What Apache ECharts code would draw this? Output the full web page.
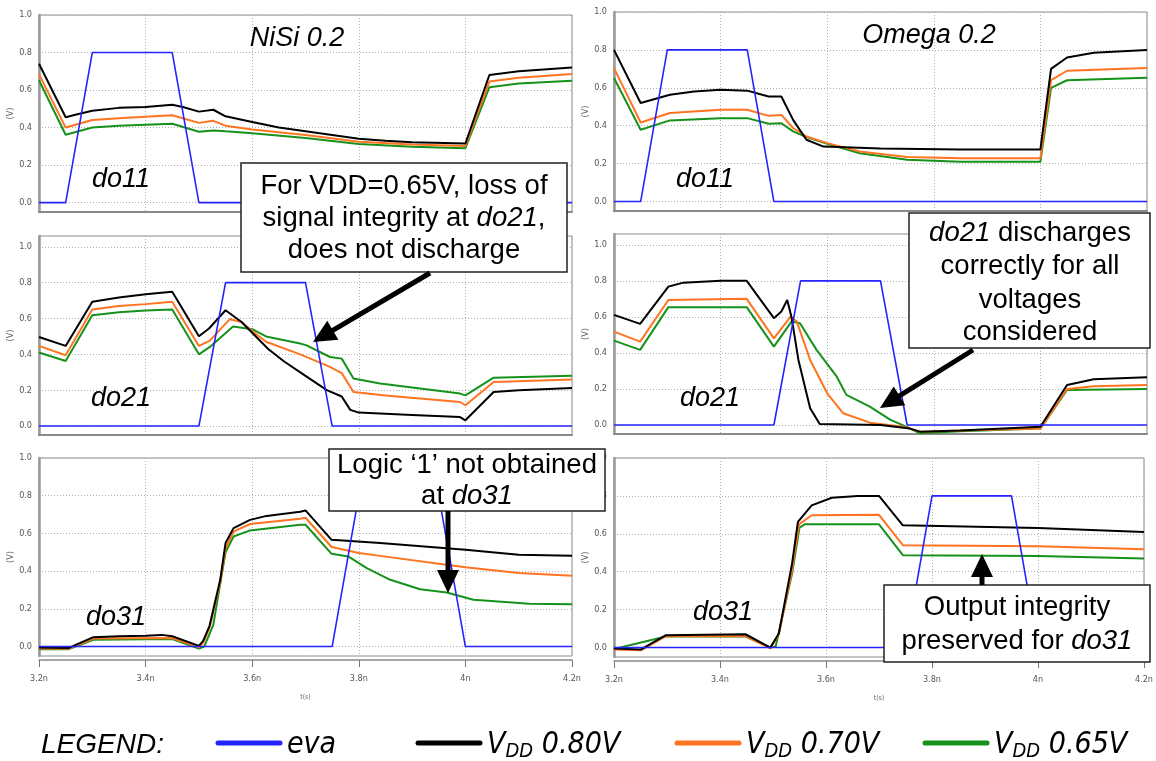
<!DOCTYPE html>
<html>
<head>
<meta charset="utf-8">
<script src="https://cdn.jsdelivr.net/npm/echarts@6/dist/echarts.min.js"></script>
<style>
  html, body { margin: 0; padding: 0; background: #fff; }
  #chart { width: 1156px; height: 761px; }
</style>
</head>
<body>
<div id="chart"></div>
<script>
// ---- Waveform data: [time (ns), voltage (V)] ----
// Evaluation clock, one pulse per stage
const evaStage1 = [[3.2, 0], [3.25, 0], [3.30, 0.8], [3.45, 0.8], [3.50, 0], [4.2, 0]];
const evaStage2 = [[3.2, 0], [3.50, 0], [3.55, 0.8], [3.70, 0.8], [3.75, 0], [4.2, 0]];
const evaStage3 = [[3.2, 0], [3.75, 0], [3.80, 0.8], [3.95, 0.8], [4.00, 0], [4.2, 0]];

// NiSi 0.2 — do11
const nisiDo11V080 = [[3.2, 0.74], [3.25, 0.455], [3.27, 0.47], [3.30, 0.49], [3.35, 0.505], [3.40, 0.51], [3.45, 0.522], [3.47, 0.51], [3.50, 0.485], [3.527, 0.495], [3.55, 0.46], [3.60, 0.43], [3.65, 0.40], [3.70, 0.38], [3.75, 0.36], [3.80, 0.34], [3.85, 0.33], [3.90, 0.322], [4.00, 0.315], [4.045, 0.68], [4.10, 0.70], [4.20, 0.72]];
const nisiDo11V070 = [[3.2, 0.685], [3.25, 0.40], [3.30, 0.44], [3.35, 0.45], [3.40, 0.458], [3.45, 0.466], [3.50, 0.425], [3.527, 0.436], [3.55, 0.41], [3.60, 0.39], [3.70, 0.36], [3.80, 0.325], [3.90, 0.31], [4.00, 0.302], [4.045, 0.645], [4.10, 0.665], [4.20, 0.685]];
const nisiDo11V065 = [[3.2, 0.652], [3.25, 0.362], [3.30, 0.40], [3.35, 0.41], [3.40, 0.415], [3.45, 0.42], [3.50, 0.378], [3.527, 0.385], [3.55, 0.38], [3.60, 0.37], [3.70, 0.345], [3.80, 0.312], [3.90, 0.298], [4.00, 0.29], [4.045, 0.615], [4.10, 0.635], [4.20, 0.65]];

// NiSi 0.2 — do21
const nisiDo21V080 = [[3.2, 0.497], [3.25, 0.447], [3.30, 0.693], [3.35, 0.717], [3.40, 0.735], [3.45, 0.749], [3.50, 0.501], [3.519, 0.544], [3.55, 0.646], [3.58, 0.58], [3.60, 0.52], [3.63, 0.43], [3.66, 0.36], [3.70, 0.28], [3.74, 0.20], [3.768, 0.165], [3.784, 0.09], [3.80, 0.075], [3.90, 0.062], [3.99, 0.05], [4.00, 0.032], [4.053, 0.19], [4.10, 0.20], [4.20, 0.212]];
const nisiDo21V070 = [[3.2, 0.447], [3.25, 0.395], [3.30, 0.65], [3.35, 0.67], [3.40, 0.68], [3.45, 0.693], [3.50, 0.447], [3.52, 0.475], [3.558, 0.596], [3.58, 0.58], [3.60, 0.53], [3.626, 0.47], [3.69, 0.40], [3.746, 0.33], [3.768, 0.295], [3.79, 0.19], [3.85, 0.17], [3.99, 0.134], [4.00, 0.116], [4.053, 0.246], [4.20, 0.26]];
const nisiDo21V065 = [[3.2, 0.41], [3.25, 0.363], [3.30, 0.618], [3.35, 0.635], [3.40, 0.645], [3.45, 0.65], [3.50, 0.40], [3.52, 0.44], [3.564, 0.555], [3.60, 0.54], [3.626, 0.50], [3.69, 0.46], [3.702, 0.45], [3.746, 0.385], [3.768, 0.376], [3.79, 0.265], [3.84, 0.237], [3.915, 0.209], [3.99, 0.181], [4.00, 0.171], [4.053, 0.27], [4.20, 0.28]];

// NiSi 0.2 — do31
const nisiDo31V080 = [[3.2, -0.005], [3.255, -0.008], [3.302, 0.05], [3.35, 0.055], [3.40, 0.058], [3.43, 0.062], [3.45, 0.055], [3.50, 0.004], [3.508, 0.03], [3.52, 0.11], [3.54, 0.354], [3.55, 0.549], [3.565, 0.628], [3.596, 0.672], [3.627, 0.693], [3.69, 0.715], [3.70, 0.722], [3.749, 0.566], [3.84, 0.549], [4.00, 0.513], [4.10, 0.487], [4.20, 0.481]];
const nisiDo31V070 = [[3.2, -0.01], [3.255, -0.012], [3.302, 0.043], [3.45, 0.045], [3.50, -0.004], [3.508, 0.02], [3.52, 0.10], [3.54, 0.34], [3.55, 0.52], [3.565, 0.61], [3.596, 0.65], [3.69, 0.678], [3.70, 0.683], [3.749, 0.528], [3.80, 0.496], [3.84, 0.481], [3.964, 0.434], [4.00, 0.421], [4.10, 0.39], [4.20, 0.375]];
const nisiDo31V065 = [[3.2, -0.014], [3.255, -0.014], [3.302, 0.036], [3.45, 0.04], [3.50, -0.01], [3.51, 0.0], [3.527, 0.115], [3.55, 0.50], [3.565, 0.584], [3.596, 0.616], [3.69, 0.646], [3.70, 0.646], [3.749, 0.492], [3.78, 0.478], [3.815, 0.416], [3.859, 0.354], [3.915, 0.304], [3.965, 0.287], [4.015, 0.248], [4.12, 0.227], [4.20, 0.225]];

// Omega 0.2 — do11
const omegaDo11V080 = [[3.2, 0.80], [3.25, 0.52], [3.305, 0.563], [3.35, 0.58], [3.40, 0.59], [3.45, 0.585], [3.49, 0.554], [3.514, 0.554], [3.536, 0.431], [3.561, 0.326], [3.593, 0.29], [3.70, 0.28], [3.85, 0.275], [4.00, 0.275], [4.02, 0.70], [4.05, 0.76], [4.10, 0.785], [4.20, 0.80]];
const omegaDo11V070 = [[3.2, 0.704], [3.25, 0.417], [3.305, 0.467], [3.40, 0.484], [3.45, 0.484], [3.49, 0.452], [3.514, 0.457], [3.536, 0.388], [3.561, 0.343], [3.60, 0.308], [3.661, 0.264], [3.75, 0.235], [3.85, 0.228], [4.00, 0.228], [4.02, 0.64], [4.05, 0.69], [4.20, 0.705]];
const omegaDo11V065 = [[3.2, 0.652], [3.25, 0.379], [3.305, 0.428], [3.40, 0.44], [3.45, 0.44], [3.49, 0.41], [3.514, 0.413], [3.536, 0.37], [3.561, 0.34], [3.60, 0.305], [3.661, 0.255], [3.75, 0.22], [3.85, 0.21], [4.00, 0.21], [4.02, 0.60], [4.05, 0.64], [4.20, 0.653]];

// Omega 0.2 — do21
const omegaDo21V080 = [[3.2, 0.611], [3.249, 0.561], [3.302, 0.768], [3.33, 0.79], [3.40, 0.80], [3.449, 0.80], [3.50, 0.593], [3.514, 0.63], [3.525, 0.694], [3.533, 0.60], [3.546, 0.361], [3.568, 0.093], [3.586, 0.005], [3.70, 0.0], [3.755, -0.02], [3.774, -0.037], [3.85, -0.03], [4.00, -0.01], [4.05, 0.222], [4.10, 0.254], [4.20, 0.265]];
const omegaDo21V070 = [[3.2, 0.518], [3.249, 0.463], [3.302, 0.694], [3.449, 0.70], [3.50, 0.481], [3.531, 0.60], [3.543, 0.574], [3.568, 0.361], [3.60, 0.176], [3.63, 0.065], [3.68, 0.013], [3.743, -0.01], [3.774, -0.037], [3.85, -0.03], [4.00, -0.02], [4.05, 0.20], [4.10, 0.215], [4.20, 0.222]];
const omegaDo21V065 = [[3.2, 0.468], [3.249, 0.417], [3.302, 0.654], [3.449, 0.654], [3.50, 0.435], [3.533, 0.574], [3.549, 0.565], [3.58, 0.417], [3.618, 0.268], [3.636, 0.167], [3.68, 0.102], [3.718, 0.03], [3.749, -0.01], [3.774, -0.046], [3.85, -0.035], [4.00, -0.02], [4.05, 0.194], [4.20, 0.20]];

// Omega 0.2 — do31
const omegaDo31V080 = [[3.2, -0.005], [3.251, -0.01], [3.298, 0.065], [3.448, 0.07], [3.495, 0.0], [3.511, 0.074], [3.536, 0.443], [3.547, 0.663], [3.573, 0.75], [3.611, 0.79], [3.66, 0.80], [3.70, 0.80], [3.745, 0.645], [4.00, 0.63], [4.20, 0.61]];
const omegaDo31V070 = [[3.2, -0.01], [3.251, -0.015], [3.298, 0.06], [3.448, 0.06], [3.495, -0.005], [3.511, 0.07], [3.536, 0.408], [3.549, 0.65], [3.573, 0.698], [3.70, 0.70], [3.745, 0.54], [4.00, 0.535], [4.20, 0.519]];
const omegaDo31V065 = [[3.2, -0.008], [3.298, 0.058], [3.448, 0.058], [3.495, 0.0], [3.505, 0.005], [3.536, 0.39], [3.55, 0.633], [3.56, 0.65], [3.70, 0.65], [3.745, 0.487], [4.00, 0.483], [4.20, 0.47]];

// Axis ticks and labels
const yTicks = [0, 0.2, 0.4, 0.6, 0.8, 1.0];
const seriesNames = ['eva', 'VDD 0.80V', 'VDD 0.70V', 'VDD 0.65V'];
const nodeLabels = ['do11', 'do21', 'do31'];
const columnTitles = ['NiSi 0.2', 'Omega 0.2'];

// ---- Styling ----
const COLORS = { eva: '#2424ff', v080: '#000000', v070: '#ff7420', v065: '#16921c' };
const SMALL_FONT = "'Liberation Sans Narrow', 'DejaVu Sans Condensed', 'Liberation Sans', sans-serif";
const TEXT_FONT = "'Liberation Sans', Arial, sans-serif";

// panel layout: [left, top, width, height, yMax]
const panelBoxes = [
  [39, 15, 533, 197, 1.0],   [614, 12, 533, 199, 1.0],
  [39, 236, 533, 199, 1.06], [614, 234, 533, 200, 1.06],
  [39, 458, 533, 198, 1.0],  [614, 458, 533, 199, 1.0]
];
const panelData = [
  [evaStage1, nisiDo11V080, nisiDo11V070, nisiDo11V065],
  [evaStage1, omegaDo11V080, omegaDo11V070, omegaDo11V065],
  [evaStage2, nisiDo21V080, nisiDo21V070, nisiDo21V065],
  [evaStage2, omegaDo21V080, omegaDo21V070, omegaDo21V065],
  [evaStage3, nisiDo31V080, nisiDo31V070, nisiDo31V065],
  [evaStage3, omegaDo31V080, omegaDo31V070, omegaDo31V065]
];

const grids = [], xAxes = [], yAxes = [], series = [];
panelBoxes.forEach((b, i) => {
  const bottomRow = i >= 4;
  grids.push({ left: b[0], top: b[1], width: b[2], height: b[3], show: true,
               borderColor: '#8c8c8c', borderWidth: 1, backgroundColor: '#fff' });
  xAxes.push({
    type: 'value', gridIndex: i, min: 3.2, max: 4.2, interval: 0.2,
    offset: bottomRow ? 4 : 0,
    axisLine: { show: true, onZero: false, lineStyle: { color: '#8a8a8a', width: bottomRow ? 1.5 : 2 } },
    axisTick: { show: bottomRow, length: 7, lineStyle: { color: '#777' } },
    axisLabel: { show: bottomRow, margin: 14, fontSize: 9, color: '#555', fontFamily: SMALL_FONT,
                 formatter: v => (Math.round(v * 10) / 10) + 'n' },
    splitLine: { show: true, lineStyle: { color: '#b0b0b0', type: [1, 2], width: 1 } },
    name: bottomRow ? 't(s)' : '', nameLocation: 'middle', nameGap: 34,
    nameTextStyle: { fontSize: 7, color: '#666', fontFamily: SMALL_FONT }
  });
  yAxes.push({
    type: 'value', gridIndex: i, min: -0.05, max: b[4],
    axisLine: { show: true, onZero: false, lineStyle: { color: '#999', width: 2.5 } },
    axisTick: { show: false, customValues: yTicks },
    axisLabel: { show: true, customValues: yTicks, margin: 7, fontSize: 9, color: '#555',
                 fontFamily: SMALL_FONT, formatter: v => v.toFixed(1) },
    splitLine: { show: true, lineStyle: { color: '#b0b0b0', type: [1, 2], width: 1 } },
    name: '(V)', nameLocation: 'middle', nameRotate: 90, nameGap: 22,
    nameTextStyle: { fontSize: 9, color: '#666', fontFamily: SMALL_FONT }
  });
  const d = panelData[i];
  const spec = [
    [seriesNames[3], d[3], COLORS.v065, 2],
    [seriesNames[2], d[2], COLORS.v070, 2],
    [seriesNames[1], d[1], COLORS.v080, 2],
    [seriesNames[0], d[0], COLORS.eva, 1.6]
  ];
  spec.forEach(s => series.push({
    name: s[0], type: 'line', xAxisIndex: i, yAxisIndex: i, data: s[1],
    showSymbol: false, symbol: 'none', silent: true,
    lineStyle: { color: s[2], width: s[3] }, itemStyle: { color: s[2] }
  }));
});

// ---- Annotation graphics ----
const graphic = [];
function addText(x, y, text, size, italic, align, family) {
  const fam = family || TEXT_FONT;
  graphic.push({ type: 'text', x: x, y: y, z: 100, silent: true,
    style: { text: text, fill: '#000', font: (italic ? 'italic ' : '') + size + 'px ' + fam,
             align: align || 'center', verticalAlign: 'middle',
             rich: { i: { fontStyle: 'italic', fontSize: size, fontFamily: fam } } } });
}
function addArrow(x1, y1, x2, y2) {
  const w = 5, hl = 23, hw = 11;
  const dx = x2 - x1, dy = y2 - y1, len = Math.hypot(dx, dy);
  const ux = dx / len, uy = dy / len, px = -uy, py = ux;
  const bx = x2 - ux * hl, by = y2 - uy * hl;
  graphic.push({ type: 'line', z: 101, silent: true,
    shape: { x1: x1, y1: y1, x2: bx + ux * 2, y2: by + uy * 2 },
    style: { stroke: '#000', lineWidth: w } });
  graphic.push({ type: 'polygon', z: 101, silent: true,
    shape: { points: [[x2, y2], [bx + px * hw, by + py * hw], [bx - px * hw, by - py * hw]] },
    style: { fill: '#000' } });
}

// column titles and node names
addText(297, 38, columnTitles[0], 27, true);
addText(929, 35, columnTitles[1], 27, true);
[[121, 179], [705, 179], [121, 398], [710, 398], [116, 617], [723, 612]].forEach((p, i) =>
  addText(p[0], p[1], nodeLabels[Math.floor(i / 2)], 27, true));

// call-out boxes
const notes = [
  { box: [241, 163, 326, 109], cx: 404, lines: [[186, 'For VDD=0.65V, loss of'], [218, 'signal integrity at {i|do21},'], [250, 'does not discharge']] },
  { box: [909, 213, 241, 135], cx: 1030, lines: [[233, '{i|do21} discharges'], [266, 'correctly for all'], [300, 'voltages'], [332, 'considered']] },
  { box: [329, 449, 276, 62], cx: 467, lines: [[465, 'Logic \u20181\u2019 not obtained'], [496, 'at {i|do31}']] },
  { box: [884, 585, 266, 77], cx: 1017, lines: [[607, 'Output integrity'], [641, 'preserved for {i|do31}']] }
];
notes.forEach(n => {
  graphic.push({ type: 'rect', z: 99, silent: true,
    shape: { x: n.box[0], y: n.box[1], width: n.box[2], height: n.box[3] },
    style: { fill: '#fff', stroke: '#222', lineWidth: 1.5 } });
  n.lines.forEach(l => addText(n.cx, l[0], l[1], 27.5, false));
});
addArrow(430, 273, 313, 342);
addArrow(973, 350, 880, 408);
addArrow(448, 511, 448, 593);
addArrow(982, 585, 982, 554);

// legend row
addText(41, 745, 'LEGEND:', 28, true, 'left');
const legendItems = [
  [218, COLORS.eva, 'eva'],
  [418, COLORS.v080, 'V{s|DD} 0.80V'],
  [677, COLORS.v070, 'V{s|DD} 0.70V'],
  [925, COLORS.v065, 'V{s|DD} 0.65V']
];
legendItems.forEach(it => {
  graphic.push({ type: 'line', z: 100, silent: true,
    shape: { x1: it[0], y1: 743, x2: it[0] + 62, y2: 743 },
    style: { stroke: it[1], lineWidth: 5, lineCap: 'round' } });
  graphic.push({ type: 'text', x: it[0] + 69, y: 745, z: 100, silent: true,
    style: { text: it[2], fill: '#000', font: 'italic 30px ' + SMALL_FONT, align: 'left', verticalAlign: 'middle',
      rich: { s: { fontSize: 20, fontStyle: 'italic', fontFamily: SMALL_FONT, padding: [14, 0, 0, 0] } } } });
});

const chart = echarts.init(document.getElementById('chart'), null, { renderer: 'canvas' });
chart.setOption({
  animation: false,
  backgroundColor: '#fff',
  grid: grids, xAxis: xAxes, yAxis: yAxes, series: series, graphic: graphic
});
</script>
</body>
</html>
